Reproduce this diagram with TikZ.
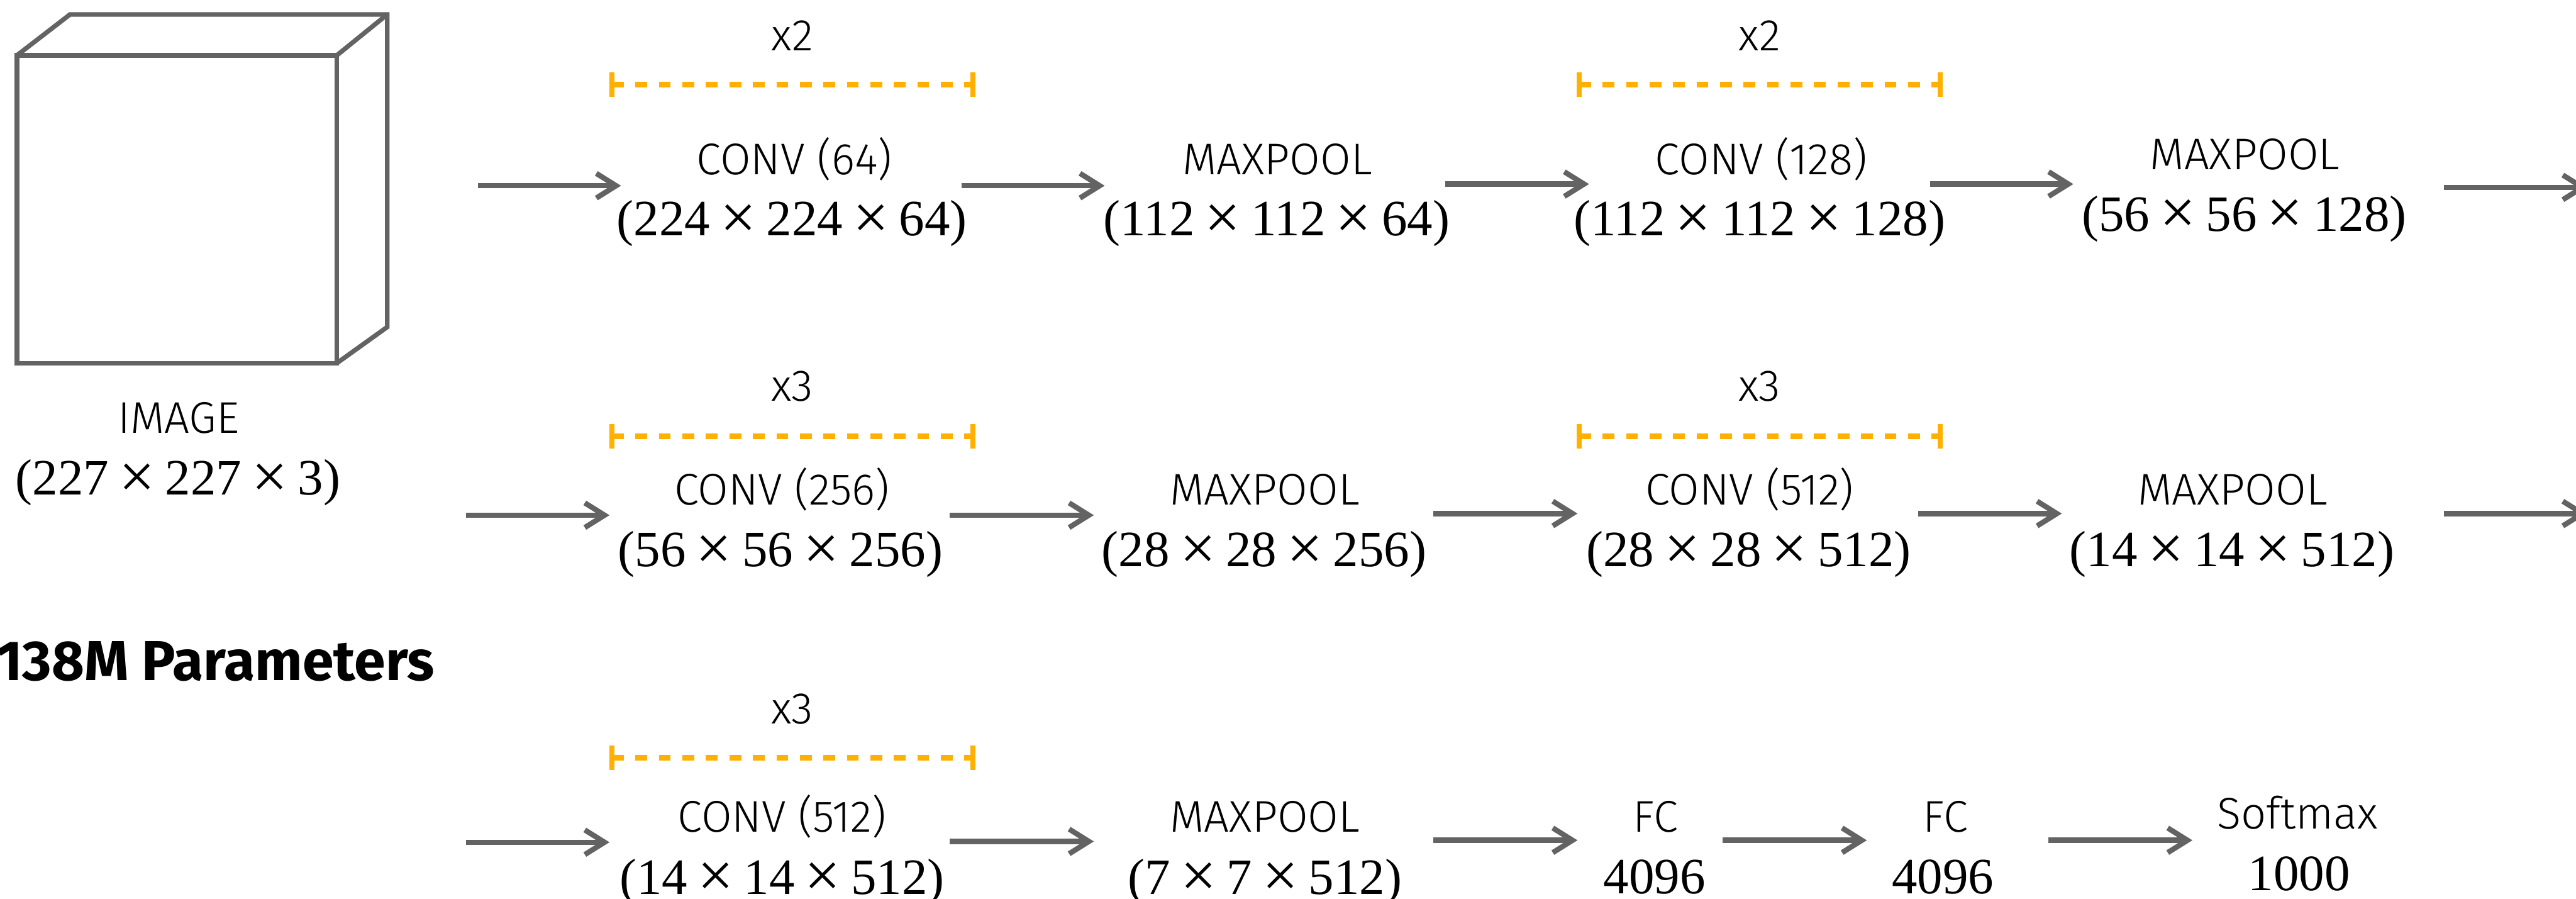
\documentclass[tikz,border=0pt]{standalone}
\usepackage{fontspec}
\setmainfont{Fira Sans}
\newfontfamily\lblfamily{Fira Sans}[UprightFont={* Light}, BoldFont={* Bold}, Numbers=Lining]
\newfontfamily\numfamily{Liberation Serif}
\usetikzlibrary{arrows.meta}

\definecolor{linegrey}{RGB}{99,99,99}
\definecolor{repeatorange}{RGB}{255,176,0}

\newcommand{\lblfont}{\lblfamily\fontsize{27}{27}\selectfont}
\newcommand{\dimfont}{\numfamily\fontsize{31}{31}\selectfont}
\newcommand{\boldfont}{\lblfamily\bfseries\fontsize{34.25}{34.25}\selectfont}
% enlarged multiplication sign, sitting on the digit centre line
\newcommand{\tms}{\hspace{0.2em}\raisebox{-0.06em}{\scalebox{1.25}{×}}\hspace{0.2em}}
\newcommand{\dims}[3]{(#1\tms#2\tms#3)}

\begin{document}
\begin{tikzpicture}[x=1pt,y=-1pt,
  lbl/.style={inner sep=0pt, anchor=base, font=\lblfont},
  dim/.style={inner sep=0pt, anchor=base, font=\dimfont},
  flow/.style={draw=linegrey, line width=3.2pt, -{Straight Barb[length=12pt,width=15pt]}},
  cubeline/.style={draw=linegrey, line width=2.8pt, line join=miter},
  dashline/.style={draw=repeatorange, line width=3.4pt, dash pattern=on 7.15pt off 7.15pt},
  tickline/.style={draw=repeatorange, line width=3pt},
  repeatbar/.pic={
    \draw[dashline] (0,0) -- (219.7,0);
    \draw[tickline] (0,-7.5) -- (0,7.5);
    \draw[tickline] (219.7,-7.5) -- (219.7,7.5);
  }]
\clip (0,0) rectangle (1568,547);
\fill[white] (0,0) rectangle (1568,547);

% input image drawn as a box
\draw[cubeline] (10.3,33.7) rectangle (205,221);
\draw[cubeline] (10.3,33.7) -- (42.6,8.8) -- (235.7,8.8) -- (235.7,199) -- (205,221);
\draw[cubeline] (205,33.7) -- (235.7,8.8);
\node[lbl] (img) at (108.7,263.5) {IMAGE};
\node[dim] (imgd) at (108.3,301.1) {\dims{227}{227}{3}};

\node[inner sep=0pt, anchor=base east, font=\boldfont] (params) at (264.7,413.9) {138M Parameters};

% repeat markers
\pic at (372.5,51.5) {repeatbar};
\pic at (961.2,51.5) {repeatbar};
\pic at (372.5,265.5) {repeatbar};
\pic at (961.2,265.5) {repeatbar};
\pic at (372.5,461.1) {repeatbar};
\node[lbl] (rep1) at (482.3,30.7) {x2};
\node[lbl] (rep2) at (1071,30.7) {x2};
\node[lbl] (rep3) at (482.3,244.2) {x3};
\node[lbl] (rep4) at (1071,244.2) {x3};
\node[lbl] (rep5) at (482.3,440.3) {x3};

% first row
\node[lbl] (c64) at (483.5,106.3) {CONV (64)};
\node[dim] (c64d) at (482,143.5) {\dims{224}{224}{64}};
\node[lbl] (mp1) at (777.5,106.3) {MAXPOOL};
\node[dim] (mp1d) at (777,143.5) {\dims{112}{112}{64}};
\node[lbl] (c128) at (1072,106.3) {CONV (128)};
\node[dim] (c128d) at (1071,143.5) {\dims{112}{112}{128}};
\node[lbl] (mp2) at (1366.5,103) {MAXPOOL};
\node[dim] (mp2d) at (1366,140.5) {\dims{56}{56}{128}};

% second row
\node[lbl] (c256) at (476,307.1) {CONV (256)};
\node[dim] (c256d) at (475,344.7) {\dims{56}{56}{256}};
\node[lbl] (mp3) at (769.9,307.1) {MAXPOOL};
\node[dim] (mp3d) at (769.5,344.7) {\dims{28}{28}{256}};
\node[lbl] (c512a) at (1065,307.1) {CONV (512)};
\node[dim] (c512ad) at (1064.4,344.7) {\dims{28}{28}{512}};
\node[lbl] (mp4) at (1359,307.1) {MAXPOOL};
\node[dim] (mp4d) at (1358.6,344.7) {\dims{14}{14}{512}};

% third row
\node[lbl] (c512b) at (476,506.3) {CONV (512)};
\node[dim] (c512bd) at (476,544) {\dims{14}{14}{512}};
\node[lbl] (mp5) at (770,506.3) {MAXPOOL};
\node[dim] (mp5d) at (770,544) {\dims{7}{7}{512}};
\node[lbl] (fc1) at (1007.8,506.3) {FC};
\node[dim] (fc1d) at (1007,543.9) {4096};
\node[lbl] (fc2) at (1184,506.3) {FC};
\node[dim] (fc2d) at (1182.5,543.9) {4096};
\node[lbl] (sm) at (1398.4,504.5) {Softmax};
\node[dim] (smd) at (1399.4,541.7) {1000};

% arrow end points
\coordinate (a1s) at (291,113);    \coordinate (a1e) at (378,113);
\coordinate (a2s) at (585.2,113);  \coordinate (a2e) at (672.4,113);
\coordinate (a3s) at (879.7,112);  \coordinate (a3e) at (967.2,112);
\coordinate (a4s) at (1175,112);   \coordinate (a4e) at (1262,112);
\coordinate (a5s) at (1487.5,114); \coordinate (a5e) at (1575,114);
\coordinate (b1s) at (283.6,313.5);  \coordinate (b1e) at (371,313.5);
\coordinate (b2s) at (577.9,313.5);  \coordinate (b2e) at (665.8,313.5);
\coordinate (b3s) at (872.5,312.5);  \coordinate (b3e) at (960.2,312.5);
\coordinate (b4s) at (1167.4,312.5); \coordinate (b4e) at (1255,312.5);
\coordinate (b5s) at (1487.5,312.5); \coordinate (b5e) at (1575,312.5);
\coordinate (d1s) at (283.6,512.5);  \coordinate (d1e) at (371,512.5);
\coordinate (d2s) at (577.9,512);    \coordinate (d2e) at (665.8,512);
\coordinate (d3s) at (872.5,511.3);  \coordinate (d3e) at (960.2,511.3);
\coordinate (d4s) at (1048.7,511.3); \coordinate (d4e) at (1136.3,511.3);
\coordinate (d5s) at (1246.9,511.3); \coordinate (d5e) at (1334.5,511.3);

\foreach \r in {a,b,d}{
  \foreach \i in {1,...,5}{
    \draw[flow] (\r\i s) -- (\r\i e);
  }
}
\end{tikzpicture}
\end{document}
